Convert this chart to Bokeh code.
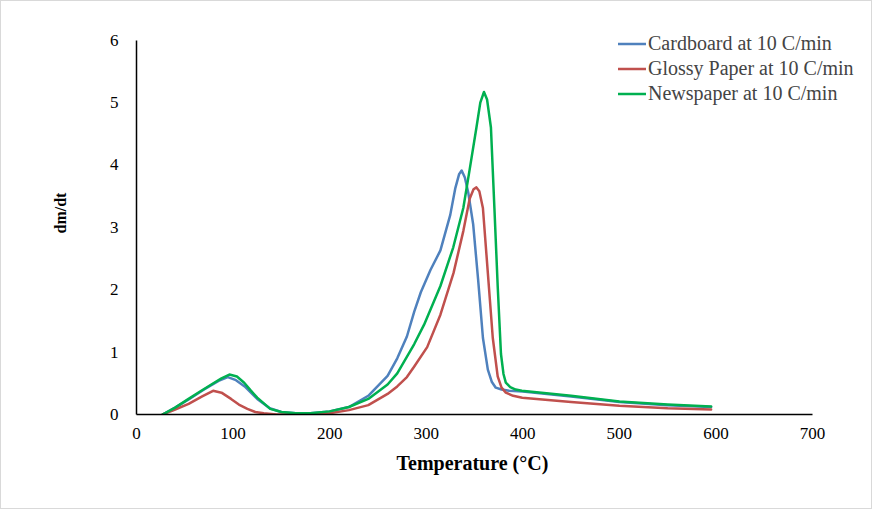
from bokeh.plotting import figure
from bokeh.models import Range1d, Legend, LegendItem, FixedTicker, Title
from bokeh.embed import file_html
from bokeh.resources import INLINE

# ---- data ----
cardboard_T = [27, 40, 54, 70, 85, 94.5, 103, 112, 125, 138, 150, 165, 180, 200, 220, 240,
               260, 270, 280, 287.6, 294.4, 304.5, 314.7, 324.9, 330, 334, 336.7, 340,
               343.5, 348.6, 353.7, 358.7, 363.8, 368, 372, 378, 385.9, 400, 450, 500,
               550, 595]
cardboard_v = [0.0, 0.11, 0.24, 0.40, 0.54, 0.60, 0.55, 0.45, 0.25, 0.10, 0.04, 0.02, 0.02,
               0.05, 0.12, 0.30, 0.62, 0.90, 1.25, 1.65, 1.96, 2.32, 2.63, 3.20, 3.62,
               3.85, 3.91, 3.80, 3.56, 3.05, 2.17, 1.23, 0.72, 0.52, 0.43, 0.40, 0.38,
               0.37, 0.29, 0.20, 0.15, 0.12]

glossy_T = [27, 40, 54, 68, 79.3, 88, 97.9, 106, 114.8, 123, 131.8, 145, 160, 180, 200,
            220, 240, 260, 270, 280, 287.6, 301, 314.7, 328.3, 338.4, 345, 349, 352,
            355, 358.7, 363.8, 368.9, 374, 378, 382.4, 390, 399.4, 450, 500, 550, 595]
glossy_v = [0.0, 0.08, 0.17, 0.29, 0.38, 0.35, 0.25, 0.16, 0.09, 0.04, 0.02, 0.0, 0.0,
            0.0, 0.02, 0.07, 0.15, 0.33, 0.45, 0.60, 0.77, 1.08, 1.60, 2.27, 2.94, 3.46,
            3.61, 3.64, 3.58, 3.31, 2.27, 1.23, 0.61, 0.43, 0.35, 0.30, 0.27, 0.20,
            0.14, 0.10, 0.08]

news_T = [27, 40, 53.9, 65, 77.5, 88, 96.2, 104, 111.5, 118, 125, 138.5, 150, 165, 180,
          200, 220, 240, 260, 270, 287.6, 297.8, 314.7, 328, 338.4, 345, 352, 356,
          359.8, 363, 367, 370.6, 374, 377.4, 380, 382.4, 387, 392.6, 399, 450, 500,
          550, 595]
news_v = [0.0, 0.11, 0.25, 0.36, 0.48, 0.58, 0.64, 0.61, 0.51, 0.39, 0.27, 0.09, 0.04,
          0.02, 0.02, 0.05, 0.12, 0.25, 0.48, 0.66, 1.13, 1.44, 2.06, 2.68, 3.31, 3.93,
          4.60, 5.00, 5.17, 5.05, 4.60, 3.31, 2.06, 0.97, 0.65, 0.51, 0.44, 0.40, 0.38,
          0.30, 0.21, 0.16, 0.13]

series_names = ["Cardboard at 10 C/min", "Glossy Paper at 10 C/min", "Newspaper at 10 C/min"]
series_colors = ["#4F81BD", "#C0504D", "#00B050"]

x_ticks = [0, 100, 200, 300, 400, 500, 600, 700]
y_ticks = [0, 1, 2, 3, 4, 5, 6]
x_title = "Temperature  (°C)"
y_title = "dm/dt"

FONT = "Liberation Serif"

# the plotting frame reaches past 700 / above 6 so that the legend is not clipped;
# the axis lines themselves stop at 700 and 6 (axis bounds)
p = figure(width=872, height=509, output_backend="svg", toolbar_location=None,
           x_range=Range1d(0, 759), y_range=Range1d(0, 6.46),
           min_border_left=135, min_border_right=4, min_border_top=10,
           min_border_bottom=96)
p.styles = {"border": "1px solid #d9d9d9", "box-sizing": "border-box"}
p.outline_line_color = None
p.xgrid.grid_line_color = None
p.ygrid.grid_line_color = None

renderers = []
for T, v, c in zip([cardboard_T, glossy_T, news_T], [cardboard_v, glossy_v, news_v], series_colors):
    r = p.line(T, v, line_color=c, line_width=2.5, line_join="round", line_cap="round")
    renderers.append(r)

for ax in (p.xaxis[0], p.yaxis[0]):
    ax.major_tick_line_color = None
    ax.minor_tick_line_color = None
    ax.axis_line_color = "#000000"
    ax.axis_line_width = 1.5
    ax.major_label_text_font = FONT
    ax.major_label_text_font_size = "17px"
    ax.major_label_text_color = "#000000"
    ax.axis_label_text_font = FONT
    ax.axis_label_text_font_style = "bold"
    ax.axis_label_text_color = "#000000"

p.xaxis[0].ticker = FixedTicker(ticks=x_ticks)
p.yaxis[0].ticker = FixedTicker(ticks=y_ticks)
p.xaxis[0].bounds = (0, 700)
p.yaxis[0].bounds = (0, 6)
p.xaxis[0].major_label_standoff = 7
p.yaxis[0].major_label_standoff = 12
p.yaxis[0].axis_label = y_title
p.yaxis[0].axis_label_text_font_size = "16px"
p.yaxis[0].axis_label_standoff = 38

xt = Title(text=x_title, align="left", offset=260, standoff=16,
           text_font=FONT, text_font_style="bold", text_font_size="20px",
           text_color="#000000")
p.add_layout(xt, "below")

legend = Legend(items=[LegendItem(label=n, renderers=[r]) for n, r in zip(series_names, renderers)],
                location=(482, 308), glyph_width=28, glyph_height=25, label_height=25,
                label_standoff=2, spacing=0, padding=0, margin=0,
                label_text_font=FONT, label_text_font_size="20px",
                border_line_color=None, background_fill_alpha=0)
p.add_layout(legend, "center")

open("out.html", "w").write(file_html(p, INLINE))
